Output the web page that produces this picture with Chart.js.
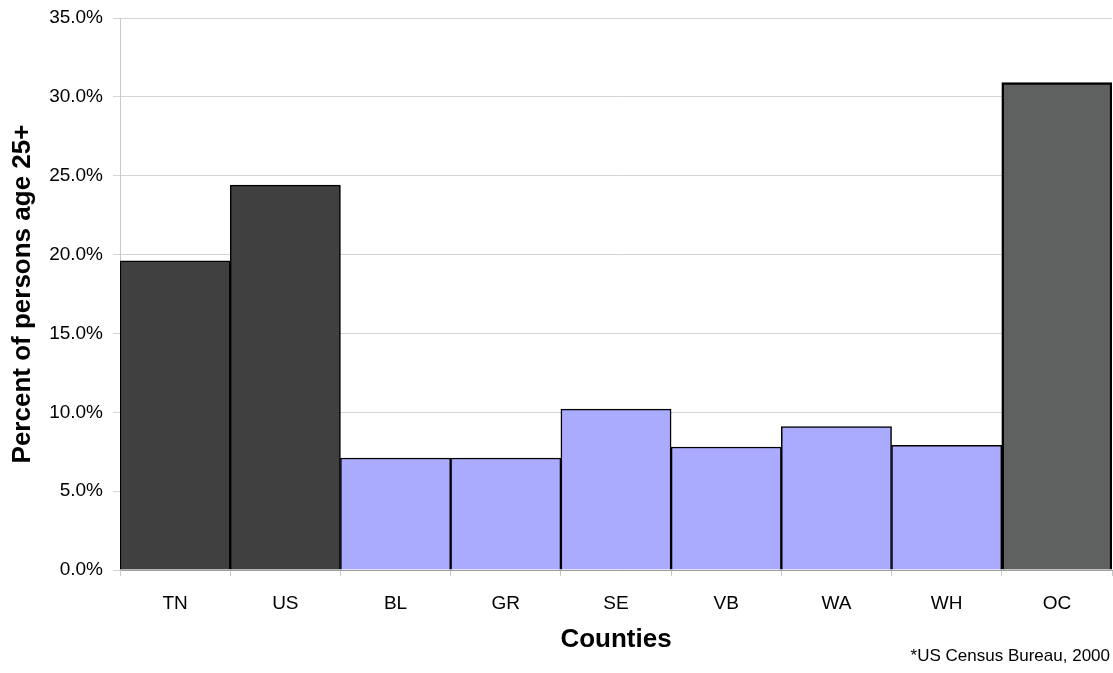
<!DOCTYPE html>
<html>
<head>
<meta charset="utf-8">
<script src="https://cdn.jsdelivr.net/npm/chart.js@4/dist/chart.umd.min.js"></script>
<style>
  html, body { margin: 0; padding: 0; background: #fff; }
  #wrap { width: 1113px; height: 673px; }
</style>
</head>
<body>
<div id="wrap"><canvas id="countyChart"></canvas></div>
<script>
const counties = ["TN", "US", "BL", "GR", "SE", "VB", "WA", "WH", "OC"];
const percents = [19.6, 24.4, 7.1, 7.1, 10.2, 7.8, 9.1, 7.9, 30.9];
const barColors = ["#404040", "#404040", "#aaaaff", "#aaaaff", "#aaaaff", "#aaaaff", "#aaaaff", "#aaaaff", "#5f6060"];
const yTicks = [0, 5, 10, 15, 20, 25, 30, 35];
const footnote = "*US Census Bureau, 2000";

const fontFamily = "'Liberation Sans', Arial, sans-serif";

// source line in the lower right corner
const footnotePlugin = {
  id: "footnote",
  afterDraw(chart) {
    const ctx = chart.ctx;
    ctx.save();
    ctx.font = "17px " + fontFamily;
    ctx.fillStyle = "#000";
    ctx.textAlign = "right";
    ctx.textBaseline = "middle";
    ctx.fillText(footnote, chart.width - 3, 656);
    ctx.restore();
  }
};

const ctx = document.getElementById("countyChart").getContext("2d");

new Chart(ctx, {
  type: "bar",
  data: {
    labels: counties,
    datasets: [{
      data: percents,
      backgroundColor: barColors,
      borderColor: "#000",
      borderWidth: [1.5, 1.5, 1.5, 1.5, 1.5, 1.5, 1.5, 1.5, 2.5],
      barPercentage: 1,
      categoryPercentage: 1
    }]
  },
  options: {
    responsive: true,
    maintainAspectRatio: false,
    animation: false,
    layout: { padding: { top: 18, right: 1, left: 0, bottom: 0 } },
    plugins: {
      legend: { display: false },
      tooltip: { enabled: false }
    },
    scales: {
      x: {
        grid: {
          offset: true,
          drawOnChartArea: false,
          drawTicks: true,
          tickLength: 6,
          color: "#c8c8c8"
        },
        border: { color: "#a0a0a0" },
        ticks: {
          color: "#000",
          padding: 16,
          font: { family: fontFamily, size: 19 }
        },
        title: {
          display: true,
          text: "Counties",
          color: "#000",
          font: { family: fontFamily, size: 26, weight: "bold" },
          padding: { top: 0, bottom: 18 }
        },
        afterFit(scale) { scale.height = 103; }
      },
      y: {
        min: 0,
        max: 35,
        afterBuildTicks(scale) {
          scale.ticks = yTicks.map(v => ({ value: v }));
        },
        grid: {
          color: "#d4d4d4",
          tickLength: 7
        },
        border: { color: "#c8c8c8" },
        ticks: {
          color: "#000",
          padding: 10,
          font: { family: fontFamily, size: 19 },
          callback: v => v.toFixed(1) + "%"
        },
        title: {
          display: true,
          text: "Percent of persons age 25+",
          color: "#000",
          font: { family: fontFamily, size: 26, weight: "bold" },
          padding: { top: 7, bottom: 0 }
        },
        afterFit(scale) {
          scale.width = 120;
          // the top label may hang above the plot; the layout padding covers it
          scale.paddingTop = 0;
          scale.paddingBottom = 0;
        }
      }
    }
  },
  plugins: [footnotePlugin]
});
</script>
</body>
</html>
